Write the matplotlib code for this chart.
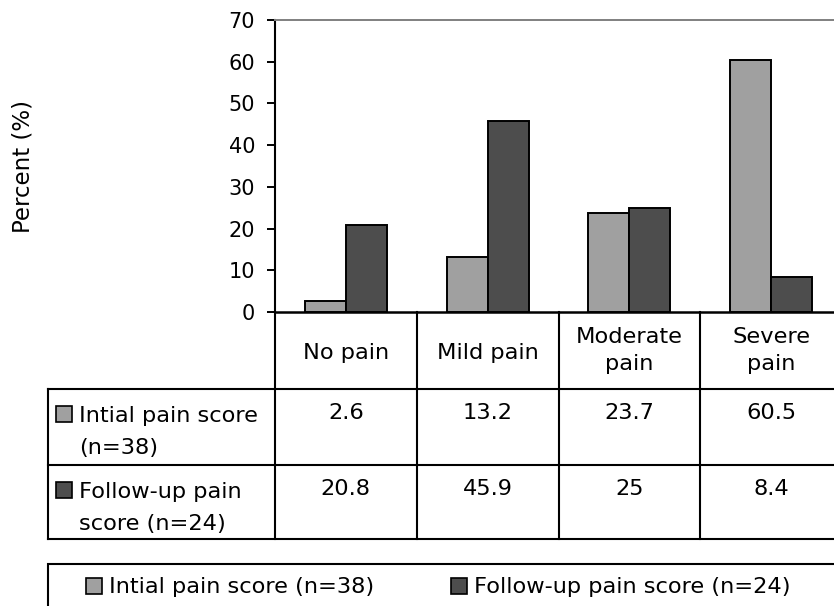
import matplotlib
matplotlib.use("Agg")
import matplotlib.pyplot as plt
from matplotlib.patches import Rectangle
from matplotlib.lines import Line2D

plt.rcParams['font.family'] = ['DejaVu Sans']

categories = ["No pain", "Mild pain", "Moderate\npain", "Severe\npain"]
series_names = ["Intial pain score\n(n=38)", "Follow-up pain\nscore (n=24)"]
legend_names = ["Intial pain score (n=38)", "Follow-up pain score (n=24)"]
initial = [2.6, 13.2, 23.7, 60.5]
followup = [20.8, 45.9, 25, 8.4]
value_labels = [["2.6", "13.2", "23.7", "60.5"], ["20.8", "45.9", "25", "8.4"]]
yticks = [0, 10, 20, 30, 40, 50, 60, 70]

colors = ["#A0A0A0", "#4D4D4D"]
FS = 16.2

W, H = 834, 606
fig = plt.figure(figsize=(W / 100, H / 100), dpi=100)


def fx(px):
    return px / W


def fy(py):
    return 1 - py / H


# plot area
left_px, right_px, top_px, bottom_px = 275, 842, 20, 312
ax = fig.add_axes([fx(left_px), fy(bottom_px), fx(right_px) - fx(left_px), fy(top_px) - fy(bottom_px)])

n = len(categories)
x = [i + 0.5 for i in range(n)]
bw = 0.29
ax.bar([xi - bw / 2 for xi in x], initial, width=bw, color=colors[0], edgecolor="black", linewidth=1.4, zorder=3)
ax.bar([xi + bw / 2 for xi in x], followup, width=bw, color=colors[1], edgecolor="black", linewidth=1.4, zorder=3)

ax.set_xlim(0, n)
ax.set_ylim(0, 70)
ax.set_yticks(yticks)
ax.set_yticklabels([str(t) for t in yticks], fontsize=15)
ax.tick_params(axis="y", length=5.8, width=1.4, pad=8.5, direction="out")
ax.set_xticks([])
ax.spines["right"].set_visible(False)
ax.spines["top"].set_color("#808080")
ax.spines["top"].set_linewidth(1.4)
ax.spines["left"].set_linewidth(1.5)
ax.spines["bottom"].set_linewidth(1.8)

fig.text(fx(23), fy(167), "Percent (%)", rotation=90, ha="center", va="center", fontsize=16.5)

# data table under the axis
lw = 1.5
to_fig = ax.transData + fig.transFigure.inverted()
col_edges = [to_fig.transform((i, 0))[0] for i in range(n + 1)]
row_y = [312, 389, 465, 539]
table_left = fx(48)


def hline(y, x0, x1):
    fig.add_artist(Line2D([x0, x1], [fy(y), fy(y)], color="black", lw=lw))


def vline(xf, y0, y1):
    fig.add_artist(Line2D([xf, xf], [fy(y0), fy(y1)], color="black", lw=lw))


for y in row_y[1:]:
    hline(y, table_left, col_edges[-1])
for xe in col_edges:
    vline(xe, row_y[0], row_y[-1])
vline(table_left, row_y[1], row_y[-1])

# category header row
line_gap = 27
for i, cat in enumerate(categories):
    cx = (col_edges[i] + col_edges[i + 1]) / 2
    lines = cat.split("\n")
    base0 = 359 if len(lines) == 1 else 343
    for k, ln in enumerate(lines):
        fig.text(cx, fy(base0 + k * line_gap), ln, ha="center", va="baseline", fontsize=FS)

# series rows
for r in range(2):
    top = row_y[r + 1]
    fig.add_artist(Rectangle((fx(56), fy(top + 17 + 16)), fx(16), fy(top + 17) - fy(top + 33),
                             facecolor=colors[r], edgecolor="black", lw=1.2))
    for k, ln in enumerate(series_names[r].split("\n")):
        fig.text(fx(79), fy(top + 33 + 32 * k), ln, ha="left", va="baseline", fontsize=FS)
    for i in range(n):
        cx = (col_edges[i] + col_edges[i + 1]) / 2
        fig.text(cx, fy(top + 30), value_labels[r][i], ha="center", va="baseline", fontsize=FS)

# legend box
fig.add_artist(Rectangle((table_left, fy(620)), col_edges[-1] - table_left, fy(564) - fy(620),
                         facecolor="none", edgecolor="black", lw=lw))
leg_x = [86, 451]
for k in range(2):
    fig.add_artist(Rectangle((fx(leg_x[k]), fy(594)), fx(16), fy(578) - fy(594),
                             facecolor=colors[k], edgecolor="black", lw=1.2))
    fig.text(fx(leg_x[k] + 23), fy(593), legend_names[k], ha="left", va="baseline", fontsize=FS)

fig.savefig("out.png", dpi=100)
